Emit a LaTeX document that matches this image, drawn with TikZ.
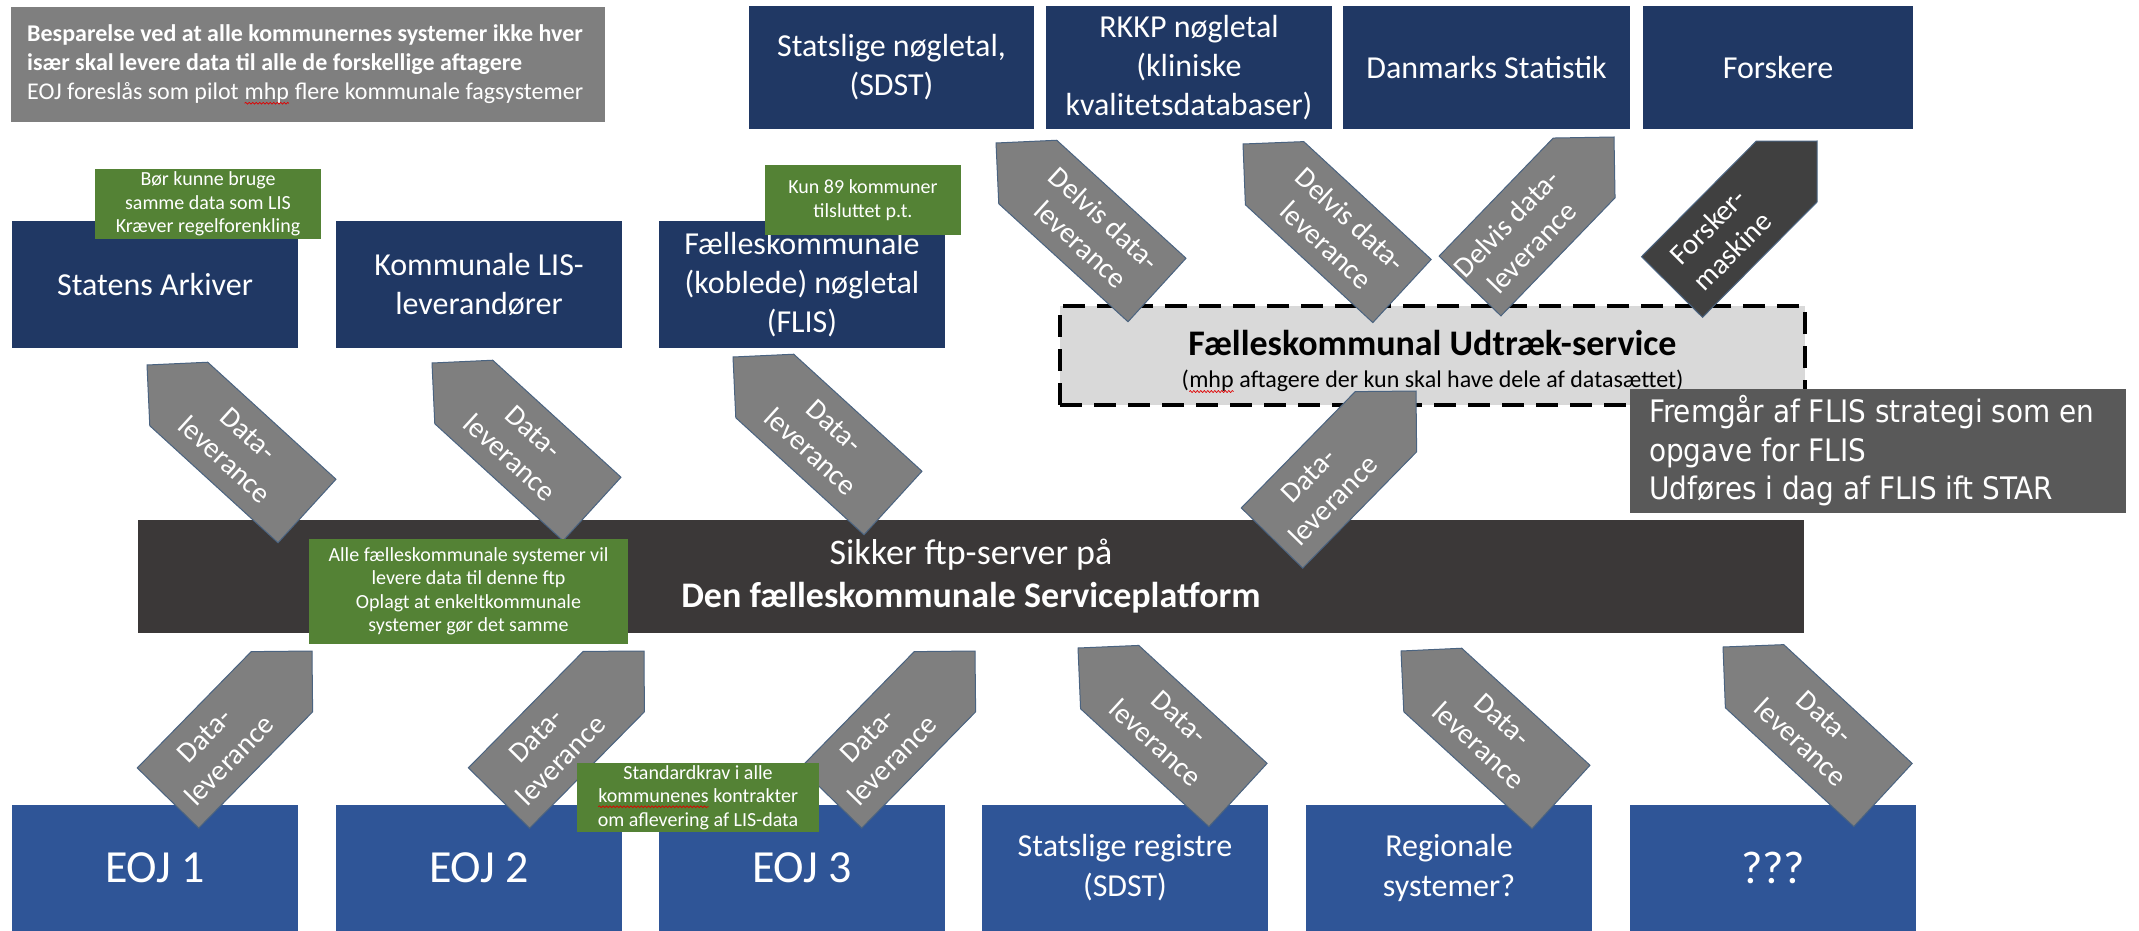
\documentclass[tikz,border=0pt]{standalone}
\usepackage{fontspec}
\setmainfont{Carlito}
\newfontfamily\fremfont{DejaVu Sans Condensed}
\usetikzlibrary{calc,decorations.pathmorphing}
\definecolor{navy}{HTML}{203864}
\definecolor{eojblue}{HTML}{2F5597}
\definecolor{notegreen}{HTML}{548235}
\definecolor{notegray}{HTML}{7F7F7F}
\definecolor{arrowgray}{HTML}{7F7F7F}
\definecolor{forskergray}{HTML}{404040}
\definecolor{arrowedge}{HTML}{4A6380}
\definecolor{udgray}{HTML}{D9D9D9}
\definecolor{barblack}{HTML}{3B3838}
\definecolor{darknote}{HTML}{595959}
\definecolor{wavered}{HTML}{E00000}
\newcommand\redwave[1]{\tikz[baseline=(wv.base)]{\node[inner sep=0pt, outer sep=0pt, anchor=base, minimum width=0pt, minimum height=0pt, fill=none, draw=none] (wv) {#1};\draw[wavered, line width=0.7pt, decorate, decoration={snake, amplitude=0.9pt, segment length=3.5pt}] ([yshift=-4pt]wv.base west) -- ([yshift=-4pt]wv.base east);}}
\newcommand\blockarrow[6][0.44]{%
  \coordinate (#2p) at #3;
  \coordinate (#2m) at #4;
  \coordinate (#2q) at ($(#2p)!43pt!(#2m)$);
  \filldraw[fill=#5, draw=arrowedge, line width=1pt, line join=miter]
    ($(#2m)!43pt!90:(#2p)$) -- ($(#2q)!43pt!90:(#2p)$) -- (#2p)
    -- ($(#2q)!43pt!-90:(#2p)$) -- ($(#2m)!43pt!-90:(#2p)$) -- cycle;
  \path (#2m) -- node[pos=#1, sloped, arrowlabel] (#2t) {#6} (#2p);
}
\begin{document}
\begin{tikzpicture}[x=1pt,y=-1pt,
  box/.style={inner sep=0pt, outer sep=0pt, anchor=north west, align=center, text=white},
  navybox/.style={box, fill=navy, font=\fontsize{32}{39}\selectfont},
  bluebox/.style={box, fill=eojblue, minimum width=286pt, minimum height=126pt, font=\fontsize{32}{40}\selectfont},
  bigtext/.style={font=\fontsize{46}{52}\selectfont},
  notebox/.style={box, fill=notegreen, font=\fontsize{20}{23.5}\selectfont},
  arrowlabel/.style={text=white, align=center, inner sep=0pt, font=\fontsize{29}{35}\selectfont},
  plaintext/.style={anchor=west, align=left, text=white, inner sep=0pt}
]
\useasboundingbox (0,0) rectangle (2139,931);
\fill[white] (0,0) rectangle (2139,931);

% top row
\node[navybox, minimum width=285pt, minimum height=123pt] (sdstkey) at (749,6) {Statslige nøgletal,\\(SDST)};
\node[navybox, minimum width=286pt, minimum height=123pt] (rkkp) at (1046,6) {RKKP nøgletal\\(kliniske\\kvalitetsdatabaser)};
\node[navybox, minimum width=287pt, minimum height=123pt] (dst) at (1343,6) {Danmarks Statistik};
\node[navybox, minimum width=270pt, minimum height=123pt] (forsk) at (1643,6) {Forskere};

% middle row
\node[navybox, minimum width=286pt, minimum height=127pt] (arkiv) at (12,221) {Statens Arkiver};
\node[navybox, minimum width=286pt, minimum height=127pt] (lis) at (336,221) {Kommunale LIS-\\leverandører};
\node[navybox, minimum width=286pt, minimum height=127pt] (flis) at (659,221) {Fælleskommunale\\(koblede) nøgletal\\(FLIS)};

% bottom row
\node[bluebox, bigtext] (eoja) at (12,805) {EOJ 1};
\node[bluebox, bigtext] (eojb) at (336,805) {EOJ 2};
\node[bluebox, bigtext] (eojc) at (659,805) {EOJ 3};
\node[bluebox] (sreg) at (982,805) {Statslige registre\\(SDST)};
\node[bluebox] (regio) at (1306,805) {Regionale\\systemer?};
\node[bluebox, bigtext] (ukendt) at (1630,805) {???};

% extraction service
\node[box, fill=udgray, draw=black, line width=4pt, dash pattern=on 22pt off 12pt, minimum width=745pt, minimum height=99pt] (udtraek) at (1060,306) {};
\node[align=center, inner sep=0pt, font=\fontsize{24}{32}\selectfont] (udtekst) at ($(udtraek.center)+(0,6)$) {{\bfseries\fontsize{36}{36}\selectfont Fælleskommunal Udtræk-service}\\{(\redwave{mhp} aftagere der kun skal have dele af datasættet)}};

% ftp bar
\node[box, fill=barblack, minimum width=1666pt, minimum height=113pt, font=\fontsize{36}{43}\selectfont] (ftp) at (138,520) {Sikker ftp-server på\\\textbf{Den fælleskommunale Serviceplatform}};

% top-left note
\node[box, fill=notegray, minimum width=594pt, minimum height=115pt] (spare) at (11,7) {};
\node[plaintext, font=\fontsize{24}{29}\selectfont] (sparetekst) at (27,64.5) {\textbf{Besparelse ved at alle kommunernes systemer ikke hver}\\\textbf{især skal levere data til alle de forskellige aftagere}\\EOJ foreslås som pilot \redwave{mhp} flere kommunale fagsystemer};

% block arrows
\blockarrow{aa}{(147,365)}{(307,511)}{arrowgray}{Data-\\leverance}
\blockarrow{ab}{(432,363)}{(592,509)}{arrowgray}{Data-\\leverance}
\blockarrow{ac}{(733,357)}{(893,503)}{arrowgray}{Data-\\leverance}
\blockarrow[0.34]{ad}{(1416,391)}{(1272,538)}{arrowgray}{Data-\\leverance}
\blockarrow[0.4]{da}{(996,143)}{(1157,290)}{arrowgray}{Delvis data-\\leverance}
\blockarrow[0.4]{db}{(1243,144)}{(1402,291)}{arrowgray}{Delvis data-\\leverance}
\blockarrow[0.34]{dc}{(1614,137)}{(1470,286)}{arrowgray}{Delvis data-\\leverance}
\blockarrow[0.33]{dd}{(1817,141)}{(1672,287)}{forskergray}{Forsker-\\maskine}
\blockarrow[0.34]{ba}{(312,651)}{(168,798)}{arrowgray}{Data-\\leverance}
\blockarrow[0.34]{bb}{(644,651)}{(499,798)}{arrowgray}{Data-\\leverance}
\blockarrow[0.34]{bc}{(975,651)}{(831,798)}{arrowgray}{Data-\\leverance}
\blockarrow{bd}{(1078,648)}{(1238,795)}{arrowgray}{Data-\\leverance}
\blockarrow{be}{(1401,651)}{(1561,797)}{arrowgray}{Data-\\leverance}
\blockarrow{bf}{(1723,647)}{(1883,795)}{arrowgray}{Data-\\leverance}

% green notes
\node[notebox, minimum width=226pt, minimum height=70pt] (ga) at (95,169) {Bør kunne bruge\\samme data som LIS\\Kræver regelforenkling};
\node[notebox, minimum width=196pt, minimum height=70pt] (gb) at (765,165) {Kun 89 kommuner\\tilsluttet p.t.};
\node[notebox, minimum width=319pt, minimum height=105pt] (gc) at (309,539) {Alle fælleskommunale systemer vil\\levere data til denne ftp\\Oplagt at enkeltkommunale\\systemer gør det samme};
\node[box, fill=notegreen, minimum width=242pt, minimum height=69pt] (gd) at (577,763) {};
\node[align=center, text=white, inner sep=0pt, font=\fontsize{20}{23.5}\selectfont] (gdtekst) at (gd.center) {Standardkrav i alle\\\redwave{kommunenes} kontrakter\\om aflevering af LIS-data};

% FLIS note
\node[box, fill=darknote, minimum width=496pt, minimum height=124pt] (flisnote) at (1630,389) {};
\node[plaintext, font=\fremfont\fontsize{31}{38.5}\selectfont] (flistekst) at (1649,451) {Fremgår af FLIS strategi som en\\opgave for FLIS\\Udføres i dag af FLIS ift STAR};
\end{tikzpicture}
\end{document}
